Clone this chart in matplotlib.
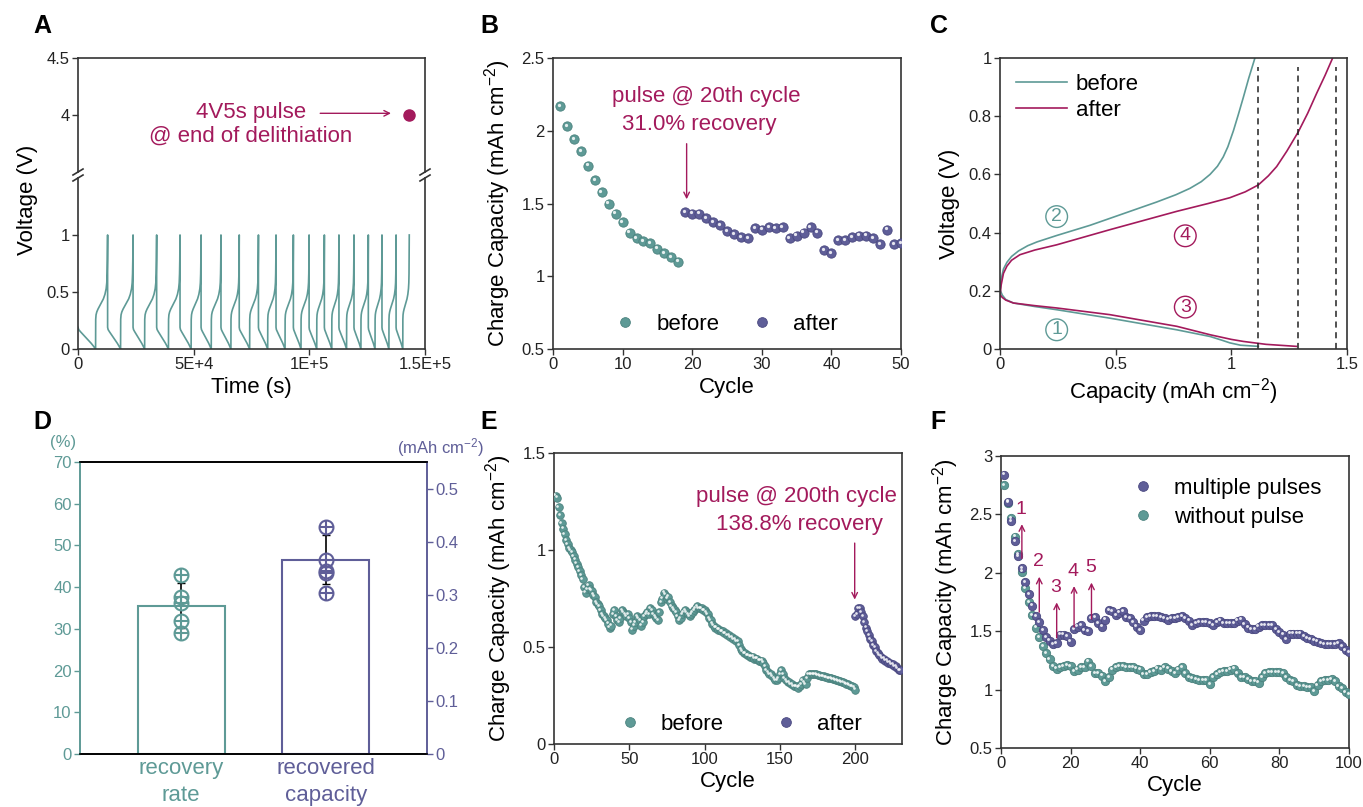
import numpy as np
import matplotlib.pyplot as plt
from matplotlib.ticker import FuncFormatter
from matplotlib.lines import Line2D
from matplotlib.transforms import offset_copy

plt.rcParams['font.family'] = ['Liberation Sans', 'DejaVu Sans']
plt.rcParams['mathtext.fontset'] = 'custom'
plt.rcParams['mathtext.rm'] = 'Liberation Sans'
plt.rcParams['mathtext.it'] = 'Liberation Sans:italic'
plt.rcParams['axes.unicode_minus'] = True

W, H = 1363, 807
TEAL = '#5E9A96'
TEAL_E = '#4B827E'
PURPLE = '#5F5E98'
PURPLE_E = '#4A4880'
MAGENTA = '#A31A5C'
DARK = '#333333'

# ---------------- data ----------------
# A: voltage profile of each cycle (times, s)
t_min = [7600, 18400, 28800, 39100, 48900, 57600, 66100, 74200, 82000, 89500,
         96400, 103200, 109700, 116100, 122300, 128400, 134400, 140400]
t_max = [12800, 23800, 34000, 44100, 53200, 61800, 69700, 78000, 85600, 93100,
         99900, 106500, 112800, 119300, 125500, 131400, 137500, 143200]
dis_frac = [0, 0.04, 0.15, 0.3, 0.45, 0.6, 0.75, 0.88, 1.0]
dis_v = [0.19, 0.17, 0.15, 0.125, 0.10, 0.075, 0.05, 0.025, 0.0]
chg_frac = [0, 0.01, 0.04, 0.1, 0.2, 0.35, 0.5, 0.65, 0.78, 0.88, 0.93, 0.96, 0.98, 1.0]
chg_v = [0, 0.26, 0.30, 0.325, 0.35, 0.38, 0.41, 0.44, 0.48, 0.53, 0.58, 0.66, 0.78, 1.0]
pulse_t, pulse_v = 143000, 4.0

# B
b_before_cyc = list(range(1, 19))
b_before = [2.17, 2.03, 1.94, 1.86, 1.76, 1.66, 1.58, 1.50, 1.43, 1.37,
            1.30, 1.26, 1.24, 1.23, 1.19, 1.16, 1.13, 1.10]
b_after_cyc = list(range(19, 51))
b_after = [1.44, 1.43, 1.43, 1.40, 1.37, 1.35, 1.31, 1.29, 1.27, 1.26,
           1.33, 1.32, 1.34, 1.33, 1.34, 1.26, 1.28, 1.30, 1.34, 1.30,
           1.18, 1.16, 1.25, 1.25, 1.27, 1.28, 1.28, 1.26, 1.22, 1.32,
           1.22, 1.23]

# C: voltage profiles (1, 3 lithiation; 2, 4 delithiation)
c1_x = [0, 0.01, 0.025, 0.058, 0.15, 0.245, 0.475, 0.764, 0.908, 0.96, 0.994, 1.04, 1.117]
c1_y = [0.204, 0.185, 0.17, 0.158, 0.146, 0.135, 0.106, 0.066, 0.043, 0.03, 0.021, 0.013, 0.009]
c2_x = [0, 0.005, 0.015, 0.03, 0.05, 0.08, 0.12, 0.16, 0.245, 0.389, 0.533, 0.677, 0.76,
        0.821, 0.87, 0.908, 0.94, 0.965, 0.985, 1.009, 1.03, 1.052, 1.075, 1.102]
c2_y = [0.198, 0.24, 0.275, 0.298, 0.318, 0.337, 0.355, 0.368, 0.39, 0.425, 0.465, 0.505, 0.53,
        0.552, 0.575, 0.6, 0.628, 0.66, 0.695, 0.75, 0.805, 0.865, 0.93, 1.0]
c3_x = [0, 0.01, 0.025, 0.058, 0.15, 0.245, 0.475, 0.764, 0.908, 1.0, 1.052, 1.15, 1.282]
c3_y = [0.187, 0.177, 0.168, 0.158, 0.149, 0.141, 0.118, 0.078, 0.049, 0.033, 0.026, 0.016, 0.009]
c4_x = [0, 0.005, 0.015, 0.03, 0.05, 0.086, 0.15, 0.245, 0.475, 0.764, 0.9, 0.994, 1.06,
        1.117, 1.16, 1.196, 1.24, 1.29, 1.33, 1.369, 1.405, 1.438]
c4_y = [0.18, 0.22, 0.26, 0.285, 0.305, 0.324, 0.34, 0.358, 0.41, 0.473, 0.5, 0.52, 0.54,
        0.564, 0.595, 0.627, 0.68, 0.747, 0.81, 0.879, 0.94, 1.0]
c_dash = [1.114, 1.29, 1.452]

# D
rate_pts = [42.8, 37.7, 36.1, 32.0, 29.1]
cap_pts = [0.428, 0.367, 0.346, 0.341, 0.304]
rate_bar, rate_err = 35.5, 5.4
cap_bar, cap_err = 0.367, 0.047

# E
e_before = [1.28, 1.27, 1.22, 1.18, 1.14, 1.11, 1.08, 1.05, 1.03, 1.01,
            1.00, 0.99, 0.97, 0.95, 0.93, 0.91, 0.89, 0.87, 0.85, 0.81,
            0.78, 0.80, 0.82, 0.80, 0.79, 0.77, 0.76, 0.73, 0.72, 0.71,
            0.69, 0.67, 0.66, 0.65, 0.64, 0.62, 0.60, 0.61, 0.67, 0.69,
            0.66, 0.64, 0.63, 0.65, 0.69, 0.68, 0.67, 0.66, 0.67, 0.65,
            0.63, 0.59, 0.61, 0.63, 0.66, 0.65, 0.64, 0.61, 0.63, 0.66,
            0.67, 0.68, 0.67, 0.70, 0.69, 0.67, 0.66, 0.65, 0.64, 0.68,
            0.73, 0.75, 0.78, 0.77, 0.75, 0.76, 0.73, 0.71, 0.70, 0.69,
            0.68, 0.66, 0.64, 0.65, 0.67, 0.68, 0.69, 0.68, 0.67, 0.66,
            0.67, 0.68, 0.69, 0.70, 0.71, 0.70, 0.70, 0.70, 0.69, 0.69,
            0.68, 0.67, 0.65, 0.64, 0.62, 0.61, 0.60, 0.60, 0.59, 0.59,
            0.58, 0.58, 0.57, 0.57, 0.56, 0.56, 0.55, 0.55, 0.54, 0.54,
            0.53, 0.53, 0.51, 0.49, 0.48, 0.47, 0.47, 0.46, 0.46, 0.45,
            0.45, 0.45, 0.44, 0.44, 0.44, 0.43, 0.43, 0.43, 0.42, 0.40,
            0.38, 0.37, 0.36, 0.36, 0.35, 0.34, 0.33, 0.33, 0.34, 0.36,
            0.38, 0.36, 0.34, 0.33, 0.32, 0.32, 0.31, 0.31, 0.30, 0.30,
            0.30, 0.29, 0.30, 0.31, 0.33, 0.32, 0.31, 0.34, 0.36, 0.36,
            0.36, 0.36, 0.36, 0.36, 0.355, 0.355, 0.35, 0.35, 0.35, 0.345,
            0.345, 0.34, 0.34, 0.34, 0.335, 0.335, 0.33, 0.33, 0.325, 0.325,
            0.32, 0.32, 0.315, 0.31, 0.31, 0.305, 0.30, 0.30, 0.295, 0.28]
e_after = [0.66, 0.67, 0.70, 0.70, 0.68, 0.66, 0.63, 0.60, 0.58, 0.56, 0.54,
           0.53, 0.51, 0.50, 0.48, 0.47, 0.46, 0.45, 0.44, 0.44, 0.43,
           0.43, 0.42, 0.42, 0.41, 0.41, 0.40, 0.40, 0.39, 0.38, 0.38]
e_before_cyc = list(range(1, 201))
e_after_cyc = list(range(200, 231))

# F
f_multi = [2.84, 2.61, 2.44, 2.27, 2.14, 2.04, 1.92, 1.82, 1.72, 1.63,
           1.58, 1.51, 1.45, 1.42, 1.39, 1.40, 1.47, 1.47, 1.46, 1.41,
           1.52, 1.54, 1.55, 1.51, 1.50, 1.61, 1.62, 1.57, 1.54, 1.60,
           1.68, 1.67, 1.64, 1.66, 1.67, 1.62, 1.61, 1.58, 1.54, 1.51,
           1.59, 1.62, 1.63, 1.63, 1.63, 1.62, 1.61, 1.60, 1.61, 1.61,
           1.62, 1.63, 1.61, 1.59, 1.55, 1.57, 1.58, 1.58, 1.58, 1.57,
           1.55, 1.58, 1.59, 1.57, 1.57, 1.57, 1.57, 1.59, 1.60, 1.56,
           1.53, 1.52, 1.52, 1.54, 1.55, 1.55, 1.55, 1.55, 1.52, 1.49,
           1.47, 1.43, 1.48, 1.48, 1.48, 1.48, 1.46, 1.44, 1.43, 1.42,
           1.41, 1.40, 1.39, 1.39, 1.39, 1.39, 1.40, 1.37, 1.34, 1.32]
f_none = [2.75, 2.60, 2.47, 2.31, 2.16, 2.01, 1.87, 1.75, 1.64, 1.53,
          1.45, 1.37, 1.31, 1.26, 1.20, 1.18, 1.19, 1.20, 1.21, 1.20,
          1.16, 1.17, 1.19, 1.19, 1.24, 1.20, 1.14, 1.14, 1.12, 1.07,
          1.11, 1.17, 1.19, 1.20, 1.20, 1.19, 1.19, 1.19, 1.18, 1.17,
          1.13, 1.13, 1.15, 1.16, 1.18, 1.17, 1.19, 1.18, 1.16, 1.14,
          1.17, 1.19, 1.14, 1.11, 1.10, 1.09, 1.08, 1.08, 1.08, 1.05,
          1.11, 1.13, 1.15, 1.16, 1.16, 1.17, 1.18, 1.14, 1.11, 1.11,
          1.09, 1.07, 1.07, 1.06, 1.11, 1.14, 1.15, 1.15, 1.15, 1.15,
          1.14, 1.11, 1.08, 1.07, 1.04, 1.03, 1.03, 1.02, 1.02, 0.99,
          1.04, 1.07, 1.08, 1.08, 1.09, 1.07, 1.03, 1.01, 0.98, 0.96]
f_cyc = list(range(1, 101))
f_arrow_cyc = [6, 11, 16, 21, 26]
f_arrow_lo = [2.10, 1.64, 1.42, 1.51, 1.58]
f_arrow_hi = [2.44, 1.99, 1.77, 1.91, 1.94]

# ---------------- figure ----------------
fig = plt.figure(figsize=(W / 100, H / 100), dpi=100)


def box(l, t, r, b):
    return fig.add_axes([l / W, 1 - b / H, (r - l) / W, (b - t) / H])


def style(ax):
    for s in ax.spines.values():
        s.set_color(DARK)
        s.set_linewidth(1.2)
    ax.tick_params(direction='out', length=4, width=1, color=DARK,
                   labelsize=12, labelcolor='#222222', pad=2)
    fmt = FuncFormatter(lambda v, _: f'{v:g}')
    ax.xaxis.set_major_formatter(fmt)
    ax.yaxis.set_major_formatter(fmt)


def balls(ax, x, y, color, edge, s=40):
    ax.scatter(x, y, s=s, color=color, edgecolors=edge, linewidths=0.6, zorder=3)
    hl = offset_copy(ax.transData, fig=fig, x=-0.9, y=0.9, units='points')
    ax.scatter(x, y, s=s * 0.12, color='white', alpha=0.85, linewidths=0,
               transform=hl, zorder=4)


def letter(x, y, s):
    fig.text(x / W, 1 - y / H, s, fontsize=18, fontweight='bold',
             family=['Liberation Sans Narrow', 'Liberation Sans'], va='top', ha='left')


def ball_handle(color, edge, label):
    return Line2D([], [], ls='none', marker='o', ms=7, mfc=color, mec=edge, mew=0.6, label=label)


# ---- A ----
axAt = box(78, 58, 425, 175)
axA = box(78, 175, 425, 349)
t_curve, v_curve = [], []
t_start = 0
for tmin, tmax in zip(t_min, t_max):
    for f, v in zip(dis_frac, dis_v):
        t_curve.append(t_start + f * (tmin - t_start))
        v_curve.append(v)
    for f, v in zip(chg_frac, chg_v):
        t_curve.append(tmin + f * (tmax - tmin))
        v_curve.append(v)
    t_start = tmax
axA.plot(t_curve, v_curve, color=TEAL, lw=1.2)
for ax in (axA, axAt):
    style(ax)
    ax.set_xlim(0, 150000)
    ax.spines['top'].set_visible(ax is axAt)
    ax.spines['bottom'].set_visible(ax is axA)
    ax.tick_params(right=False, top=False)
axA.set_ylim(0, 1.526)
axA.set_yticks([0, 0.5, 1])
axA.spines['left'].set_bounds(0, 1.50)
axA.spines['right'].set_bounds(0, 1.50)
axA.set_xticks([0, 50000, 100000, 150000])
axA.set_xticklabels(['0', '5E+4', '1E+5', '1.5E+5'])
axA.set_xlabel('Time (s)', fontsize=16, labelpad=3)
axAt.set_ylim(3.474, 4.5)
axAt.set_yticks([4, 4.5])
axAt.set_xticks([])
axAt.spines['left'].set_bounds(3.50, 4.5)
axAt.spines['right'].set_bounds(3.50, 4.5)
axAt.plot(pulse_t, pulse_v, 'o', color=MAGENTA, ms=8)
axAt.text(74800, 4.02, '4V5s pulse', color=MAGENTA, fontsize=16, ha='center', va='center')
axAt.text(74800, 3.81, '@ end of delithiation', color=MAGENTA, fontsize=16, ha='center', va='center')
axAt.annotate('', xy=(136500, 4.015), xytext=(103500, 4.015),
              arrowprops=dict(arrowstyle='->', color=MAGENTA, lw=1))
for xp in (78, 425):
    for yp in (172, 178):
        fig.add_artist(Line2D([(xp - 5) / W, (xp + 5) / W], [1 - (yp + 3) / H, 1 - (yp - 3) / H],
                              color=DARK, lw=1.2))
fig.text(28 / W, 1 - 200 / H, 'Voltage (V)', rotation=90, fontsize=16, ha='center', va='center')
letter(33, 14, 'A')

# ---- B ----
axB = box(553, 58, 901, 349)
style(axB)
balls(axB, b_before_cyc, b_before, TEAL, TEAL_E, 45)
balls(axB, b_after_cyc, b_after, PURPLE, PURPLE_E, 45)
axB.set_xlim(0, 50)
axB.set_ylim(0.5, 2.5)
axB.set_xticks([0, 10, 20, 30, 40, 50])
axB.set_yticks([0.5, 1, 1.5, 2, 2.5])
axB.set_xlabel('Cycle', fontsize=16, labelpad=3)
axB.set_ylabel('Charge Capacity (mAh cm$^{-2}$)', fontsize=16, labelpad=6)
axB.text(22.05, 2.235, 'pulse @ 20th cycle', color=MAGENTA, fontsize=16, ha='center', va='center')
axB.text(21.0, 2.04, '31.0% recovery', color=MAGENTA, fontsize=16, ha='center', va='center')
axB.annotate('', xy=(19.2, 1.51), xytext=(19.2, 1.93),
             arrowprops=dict(arrowstyle='->', color=MAGENTA, lw=1))
axB.legend(handles=[ball_handle(TEAL, TEAL_E, 'before'), ball_handle(PURPLE, PURPLE_E, 'after')],
           loc='center', bbox_to_anchor=(0.497, 0.085), ncol=2, frameon=False, fontsize=16,
           handletextpad=0.9, columnspacing=1.4, handlelength=1.0)
letter(480, 14, 'B')

# ---- C ----
axC = box(1000, 58, 1347, 349)
style(axC)
axC.plot(c2_x, c2_y, color=TEAL, lw=1.2, label='before')
axC.plot(c1_x, c1_y, color=TEAL, lw=1.2)
axC.plot(c4_x, c4_y, color=MAGENTA, lw=1.2, label='after')
axC.plot(c3_x, c3_y, color=MAGENTA, lw=1.2)
for xd in c_dash:
    axC.plot([xd, xd], [0, 0.97], color='#222222', lw=1.1, ls=(0, (4, 3)))
axC.set_xlim(0, 1.5)
axC.set_ylim(0, 1)
axC.set_xticks([0, 0.5, 1, 1.5])
axC.set_yticks([0, 0.2, 0.4, 0.6, 0.8, 1])
axC.set_xlabel('Capacity (mAh cm$^{-2}$)', fontsize=16, labelpad=3)
axC.set_ylabel('Voltage (V)', fontsize=16, labelpad=6)
for lab, x, y, col in [('1', 0.245, 0.066, TEAL), ('2', 0.245, 0.455, TEAL),
                       ('3', 0.801, 0.144, MAGENTA), ('4', 0.801, 0.389, MAGENTA)]:
    axC.text(x, y, lab, color=col, fontsize=14, ha='center', va='center',
             bbox=dict(boxstyle='circle,pad=0.12', fc='white', ec=col, lw=1))
axC.legend(loc='upper left', frameon=False, fontsize=16, handlelength=2.3,
           handletextpad=0.4, labelspacing=0.25, borderaxespad=0.3)
letter(930, 14, 'C')

# ---- D ----
axD = box(80, 462, 427, 754)
axD2 = axD.twinx()
style(axD)
style(axD2)
axD.set_xlim(-0.7, 1.7)
axD.set_ylim(0, 70)
axD2.set_ylim(0, 0.551)
axD.bar(0, rate_bar, width=0.6, facecolor='white', edgecolor=TEAL, lw=1.5, zorder=2)
axD2.bar(1, cap_bar, width=0.6, facecolor='white', edgecolor=PURPLE, lw=1.5, zorder=2)
axD.errorbar(0, rate_bar, yerr=rate_err, color='black', capsize=3, lw=1.2, zorder=3)
axD2.errorbar(1, cap_bar, yerr=cap_err, color='black', capsize=3, lw=1.2, zorder=3)
for ax, pts, xi, col in [(axD, rate_pts, 0, TEAL), (axD2, cap_pts, 1, PURPLE)]:
    ax.plot([xi] * len(pts), pts, 'o', mfc='none', mec=col, ms=10, mew=1.5, zorder=4)
    ax.plot([xi] * len(pts), pts, '+', color=col, ms=10, mew=1.5, zorder=4)
axD.set_yticks(range(0, 71, 10))
axD2.set_yticks([0, 0.1, 0.2, 0.3, 0.4, 0.5])
axD.tick_params(axis='y', colors=TEAL, labelcolor=TEAL)
axD2.tick_params(axis='y', colors=PURPLE, labelcolor=PURPLE)
axD.set_xticks([0, 1])
axD.set_xticklabels(['recovery\nrate', 'recovered\ncapacity'], fontsize=16, linespacing=1.35)
axD.tick_params(axis='x', length=0, pad=3)
for tl, col in zip(axD.get_xticklabels(), [TEAL, PURPLE]):
    tl.set_color(col)
for ax in (axD, axD2):
    ax.spines['left'].set_color(TEAL)
    ax.spines['right'].set_color(PURPLE)
    ax.spines['top'].set_color('black')
    ax.spines['bottom'].set_color('black')
fig.text(63 / W, 1 - 443 / H, '(%)', color=TEAL, fontsize=12, ha='center', va='center')
fig.text(397 / W, 1 - 448 / H, '(mAh cm$^{-2}$)', color=PURPLE, fontsize=12, ha='left', va='center')
letter(33, 410, 'D')

# ---- E ----
axE = box(554, 453, 902, 744)
style(axE)
balls(axE, e_before_cyc, e_before, TEAL, TEAL_E, 30)
balls(axE, e_after_cyc, e_after, PURPLE, PURPLE_E, 30)
axE.set_xlim(0, 231)
axE.set_ylim(0, 1.5)
axE.set_xticks([0, 50, 100, 150, 200])
axE.set_yticks([0, 0.5, 1, 1.5])
axE.set_xlabel('Cycle', fontsize=16, labelpad=3)
axE.set_ylabel('Charge Capacity (mAh cm$^{-2}$)', fontsize=16, labelpad=6)
axE.text(160.8, 1.274, 'pulse @ 200th cycle', color=MAGENTA, fontsize=16, ha='center', va='center')
axE.text(163, 1.134, '138.8% recovery', color=MAGENTA, fontsize=16, ha='center', va='center')
axE.annotate('', xy=(199.6, 0.73), xytext=(199.6, 1.05),
             arrowprops=dict(arrowstyle='->', color=MAGENTA, lw=1))
axE.legend(handles=[ball_handle(TEAL, TEAL_E, 'before'), ball_handle(PURPLE, PURPLE_E, 'after')],
           loc='center', bbox_to_anchor=(0.535, 0.068), ncol=2, frameon=False, fontsize=16,
           handletextpad=0.9, columnspacing=2.3, handlelength=1.0)
letter(480, 410, 'E')

# ---- F ----
axF = box(1001, 456, 1349, 748)
style(axF)
balls(axF, f_cyc, f_none, TEAL, TEAL_E, 36)
balls(axF, f_cyc, f_multi, PURPLE, PURPLE_E, 36)
for i, (c, lo, hi) in enumerate(zip(f_arrow_cyc, f_arrow_lo, f_arrow_hi)):
    axF.annotate('', xy=(c, hi), xytext=(c, lo),
                 arrowprops=dict(arrowstyle='->', color=MAGENTA, lw=1), zorder=5)
    axF.text(c - 0.2, hi + 0.03, str(i + 1), color=MAGENTA, fontsize=14, ha='center', va='bottom')
axF.set_xlim(0, 100)
axF.set_ylim(0.5, 3)
axF.set_xticks([0, 20, 40, 60, 80, 100])
axF.set_yticks([0.5, 1, 1.5, 2, 2.5, 3])
axF.set_xlabel('Cycle', fontsize=16, labelpad=3)
axF.set_ylabel('Charge Capacity (mAh cm$^{-2}$)', fontsize=16, labelpad=6)
axF.legend(handles=[ball_handle(PURPLE, PURPLE_E, 'multiple pulses'),
                    ball_handle(TEAL, TEAL_E, 'without pulse')],
           loc='upper right', bbox_to_anchor=(0.985, 1.0), frameon=False, fontsize=16,
           handletextpad=0.9, handlelength=1.0, labelspacing=0.35, borderaxespad=0.6)
letter(930, 410, 'F')

fig.savefig('out.png', dpi=100)
